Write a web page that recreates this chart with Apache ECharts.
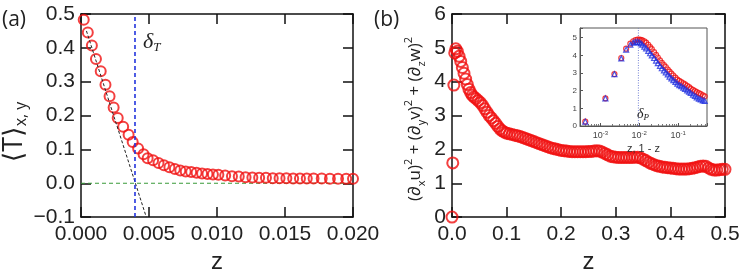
<!DOCTYPE html>
<html><head><meta charset="utf-8">
<script src="https://cdn.jsdelivr.net/npm/echarts@6/dist/echarts.min.js"></script>
<style>html,body{margin:0;padding:0;background:#fff}#c{width:747px;height:279px}</style>
</head><body><div id="c"></div>
<script>
// ---------- Panel (a) ----------
const aZ = [0.0002,0.0005,0.0008,0.0011,0.00145,0.0018,0.0021,0.0024,0.0027,0.0031,0.0035,0.0038,0.0042,0.0046,0.0049,
  0.0053,0.0057,0.0061,0.0065,0.0069,0.0073,0.0077,0.0081,0.0085,0.0089,0.0093,0.0097,0.0101,0.0106,0.0111,0.0116,
  0.0121,0.0126,0.0131,0.0136,0.0141,0.0146,0.0151,0.0156,0.0161,0.0166,0.0171,0.0177,0.0183,0.0189,0.0195,0.0200];
const aT = [0.483,0.445,0.407,0.367,0.331,0.291,0.257,0.224,0.193,0.167,0.143,0.122,0.103,0.086,0.074,
  0.068,0.060,0.053,0.047,0.042,0.038,0.035,0.033,0.031,0.029,0.027,0.026,0.025,0.023,0.021,0.020,
  0.018,0.017,0.016,0.016,0.015,0.015,0.015,0.014,0.014,0.014,0.014,0.014,0.013,0.013,0.013,0.013];
const aXTicks = [0, 0.02, 0.005];     // min, max, interval
const aYTicks = [-0.1, 0.5, 0.1];
const deltaT = 0.00397;
const tangentZ = [0.0004, 0.0048];
const tangentT = [0.45, -0.1];

// ---------- Panel (b) ----------
const bZ = [0,0.0014,0.0034,0.005,0.007,0.0098,0.013,0.016,0.019,0.022,0.025,0.028,0.031,0.034,0.037,0.040,0.044,0.048,
  0.052,0.056,0.060,0.064,0.068,0.072,0.076,0.080,0.084,0.088,0.092,0.096,0.100,0.105,0.110,0.115,0.120,0.125,0.130,
  0.135,0.140,0.145,0.150,0.155,0.160,0.165,0.170,0.175,0.180,0.185,0.190,0.195,0.200,0.205,0.210,0.215,0.220,0.225,
  0.230,0.235,0.240,0.245,0.250,0.255,0.260,0.265,0.270,0.275,0.280,0.285,0.290,0.295,0.300,0.305,0.310,0.315,0.320,
  0.325,0.330,0.335,0.340,0.345,0.350,0.355,0.360,0.365,0.370,0.375,0.380,0.385,0.390,0.395,0.400,0.405,0.410,0.415,
  0.420,0.425,0.430,0.435,0.440,0.445,0.450,0.455,0.460,0.465,0.470,0.475,0.480,0.485,0.490,0.495,0.500];
const bVal = [0,1.6,3.9,4.85,4.97,4.9,4.75,4.6,4.42,4.25,4.08,3.92,3.78,3.68,3.6,3.55,3.5,3.44,
  3.38,3.3,3.2,3.1,3.0,2.93,2.85,2.77,2.68,2.6,2.55,2.51,2.48,2.46,2.44,2.42,2.4,2.38,2.35,
  2.32,2.29,2.26,2.23,2.2,2.17,2.14,2.11,2.08,2.05,2.03,2.01,1.99,1.97,1.96,1.95,1.94,1.93,1.93,
  1.93,1.93,1.93,1.93,1.94,1.94,1.95,1.96,1.95,1.92,1.88,1.84,1.8,1.78,1.77,1.76,1.76,1.76,1.76,
  1.76,1.76,1.77,1.77,1.75,1.71,1.67,1.62,1.58,1.55,1.52,1.5,1.48,1.47,1.46,1.45,1.44,1.43,1.42,
  1.42,1.42,1.42,1.43,1.44,1.46,1.48,1.5,1.51,1.5,1.45,1.41,1.39,1.39,1.4,1.41,1.41];
const bXTicks = [0, 0.5, 0.1];
const bYTicks = [0, 6, 1];

// ---------- Inset ----------
const insetZ = [4.1e-4,1.35e-3,2.3e-3,3.45e-3,4.6e-3,5.9e-3,7.0e-3,8.0e-3,9.0e-3,1.0e-2,1.1e-2,1.2e-2,1.35e-2,1.5e-2,
  1.7e-2,1.9e-2,2.1e-2,2.4e-2,2.7e-2,3.0e-2,3.4e-2,3.8e-2,4.3e-2,4.8e-2,5.4e-2,6.0e-2,6.7e-2,7.5e-2,8.5e-2,9.5e-2,
  0.107,0.12,0.135,0.15,0.17,0.19,0.21,0.24,0.27,0.30,0.34,0.38,0.43,0.48];
const insetRed = [0.25,1.57,2.94,3.85,4.38,4.66,4.8,4.87,4.9,4.9,4.88,4.85,4.8,4.72,
  4.6,4.47,4.35,4.18,4.03,3.88,3.72,3.58,3.45,3.34,3.2,3.08,2.97,2.86,2.74,2.63,
  2.55,2.48,2.42,2.36,2.28,2.2,2.12,2.05,1.98,1.92,1.86,1.8,1.74,1.68];
const insetBlue = [0.25,1.57,2.94,3.83,4.33,4.6,4.72,4.76,4.77,4.74,4.68,4.6,4.5,4.4,
  4.26,4.12,4.0,3.85,3.7,3.56,3.4,3.27,3.15,3.04,2.92,2.8,2.7,2.6,2.5,2.4,
  2.32,2.25,2.17,2.1,2.02,1.94,1.87,1.78,1.7,1.62,1.55,1.5,1.45,1.42];
const insetX = [3e-4, 0.55];
const insetY = [0, 5.55, 1];
const deltaP = 0.0095;

const RED = '#f01010', BLUE = '#1f2fe0';
const TICKFONT = "'Liberation Sans', Arial, sans-serif";
const TITLEFONT = "'Open Sans', 'DejaVu Sans', sans-serif";

function zip(xs, ys) { return xs.map((x, i) => [x, ys[i]]); }

function mainX(grid, t, dec, show, pos) {
  return {
    gridIndex: grid, type: 'value', min: t[0], max: t[1], interval: t[2], position: pos,
    axisLine: { show: true, onZero: false, lineStyle: { color: '#111', width: 1.5 } },
    axisTick: { show: true, inside: true, length: 10, lineStyle: { color: '#111', width: 1.5 } },
    axisLabel: { show: show, margin: 7, fontSize: 21, fontFamily: TICKFONT, color: '#222',
      formatter: v => v.toFixed(dec) },
    splitLine: { show: false }
  };
}
function mainY(grid, t, dec, show, pos) {
  return {
    gridIndex: grid, type: 'value', min: t[0], max: t[1], interval: t[2], position: pos,
    axisLine: { show: true, onZero: false, lineStyle: { color: '#111', width: 1.5 } },
    axisTick: { show: true, inside: true, length: 10, lineStyle: { color: '#111', width: 1.5 } },
    axisLabel: { show: show, margin: 6, fontSize: 21, fontFamily: TICKFONT, color: '#222',
      formatter: v => (Math.abs(v) < 1e-9 ? 0 : v).toFixed(dec).replace('-', '\u2212') },
    splitLine: { show: false }
  };
}

const circleStyle = (w) => ({ color: 'rgba(0,0,0,0)', borderColor: RED, borderWidth: w });

const option = {
  animation: false,
  backgroundColor: '#fff',
  grid: [
    { left: 81, top: 14, width: 272, height: 209 },
    { left: 452, top: 14, width: 273, height: 209 },
    { left: 580, top: 28, width: 127, height: 98, show: true, backgroundColor: '#fff', borderColor: '#555', borderWidth: 1, z: 5 }
  ],
  xAxis: [
    Object.assign(mainX(0, aXTicks, 3, true, 'bottom'), { name: 'z', nameLocation: 'middle', nameGap: 28,
      nameTextStyle: { fontSize: 24, fontFamily: TICKFONT, color: '#222' } }),
    mainX(0, aXTicks, 3, false, 'top'),
    Object.assign(mainX(1, bXTicks, 1, true, 'bottom'), { name: 'z', nameLocation: 'middle', nameGap: 28,
      nameTextStyle: { fontSize: 24, fontFamily: TICKFONT, color: '#222' } }),
    mainX(1, bXTicks, 1, false, 'top'),
    {
      gridIndex: 2, type: 'log', logBase: 10, min: insetX[0], max: insetX[1], z: 6,
      axisLine: { show: true, onZero: false, lineStyle: { color: '#555', width: 1 } },
      axisTick: { show: true, inside: true, length: 3, lineStyle: { color: '#555' } },
      minorTick: { show: true, splitNumber: 9, length: 2, lineStyle: { color: '#777' } },
      axisLabel: { margin: 4, color: '#444', fontFamily: TICKFONT,
        formatter: v => { const e = Math.log10(v); if (Math.abs(e - Math.round(e)) > 1e-6) return '';
          return '{b|10}{s|' + Math.round(e) + '}'; },
        rich: { b: { fontSize: 9, fontFamily: TICKFONT, color: '#444' },
                s: { fontSize: 6, fontFamily: TICKFONT, color: '#444', verticalAlign: 'top', padding: [0, 0, 6, 0] } } },
      name: 'z, 1 - z', nameLocation: 'middle', nameGap: 17,
      nameTextStyle: { fontSize: 11, fontFamily: TICKFONT, color: '#333' },
      splitLine: { show: false }
    }
  ],
  yAxis: [
    mainY(0, aYTicks, 1, true, 'left'),
    mainY(0, aYTicks, 1, false, 'right'),
    mainY(1, bYTicks, 0, true, 'left'),
    mainY(1, bYTicks, 0, false, 'right'),
    {
      gridIndex: 2, type: 'value', min: insetY[0], max: insetY[1], interval: insetY[2], z: 6,
      axisLine: { show: true, onZero: false, lineStyle: { color: '#555', width: 1 } },
      axisTick: { show: true, inside: true, length: 3, lineStyle: { color: '#555' } },
      axisLabel: { margin: 3, fontSize: 8, fontFamily: TICKFONT, color: '#444',
        formatter: v => (Math.abs(v - Math.round(v)) > 1e-6 ? '' : String(Math.round(v))) },
      splitLine: { show: false }
    }
  ],
  series: [
    { type: 'scatter', xAxisIndex: 0, yAxisIndex: 0, data: zip(aZ, aT), symbol: 'circle', symbolSize: 10,
      itemStyle: circleStyle(2), z: 2 },
    { type: 'line', xAxisIndex: 0, yAxisIndex: 0, data: [[aXTicks[0], 0], [aXTicks[1], 0]], symbol: 'none',
      lineStyle: { color: '#3a9a3a', width: 1.2, type: [4, 3] }, z: 1 },
    { type: 'line', xAxisIndex: 0, yAxisIndex: 0, data: zip(tangentZ, tangentT), symbol: 'none',
      lineStyle: { color: '#222', width: 1, type: [3, 2] }, z: 3 },
    { type: 'line', xAxisIndex: 0, yAxisIndex: 0, data: [[deltaT, aYTicks[0]], [deltaT, aYTicks[1]]], symbol: 'none',
      lineStyle: { color: '#2233dd', width: 1.6, type: [4, 3] }, z: 3 },

    { type: 'scatter', xAxisIndex: 2, yAxisIndex: 2, data: zip(bZ, bVal), symbol: 'circle', symbolSize: 11,
      itemStyle: circleStyle(2), z: 2 },

    { type: 'line', xAxisIndex: 4, yAxisIndex: 4, data: [[deltaP, insetY[0]], [deltaP, insetY[1]]], symbol: 'none',
      lineStyle: { color: '#5566cc', width: 0.8, type: [1, 1.5] }, z: 6 },
    { type: 'scatter', xAxisIndex: 4, yAxisIndex: 4, data: zip(insetZ, insetRed), symbol: 'circle', symbolSize: 5,
      itemStyle: { color: 'rgba(0,0,0,0)', borderColor: RED, borderWidth: 1.2 }, z: 7 },
    { type: 'scatter', xAxisIndex: 4, yAxisIndex: 4, data: zip(insetZ, insetBlue), symbol: 'triangle', symbolSize: 5,
      itemStyle: { color: 'rgba(0,0,0,0)', borderColor: BLUE, borderWidth: 1.2 }, z: 8 }
  ],
  graphic: [
    { type: 'text', x: 2, y: 20, style: { text: '(a)', fontSize: 21, fontFamily: TITLEFONT, fill: '#222', verticalAlign: 'middle' } },
    { type: 'text', x: 374, y: 20, style: { text: '(b)', fontSize: 21, fontFamily: TITLEFONT, fill: '#222', verticalAlign: 'middle' } },
    { type: 'text', x: 14, y: 132, rotation: Math.PI / 2,
      style: { text: '{m|\u27E8T\u27E9}{s|x, y}', align: 'center', verticalAlign: 'middle',
        rich: { m: { fontSize: 27, fontFamily: TITLEFONT, fill: '#222', lineHeight: 30, verticalAlign: 'middle' },
                s: { fontSize: 16, fontFamily: TITLEFONT, fill: '#222', lineHeight: 16, verticalAlign: 'bottom' } } } },
    { type: 'text', x: 415, y: 119, rotation: Math.PI / 2,
      style: { text: '{t|(\u2202}{b|x}{t|u)}{p|2}{t| + (\u2202}{b|y}{t|v)}{p|2}{t| + (\u2202}{b|z}{t|w)}{p|2}',
        align: 'center', verticalAlign: 'middle',
        rich: { t: { fontSize: 17, fontFamily: TITLEFONT, fill: '#222', lineHeight: 24, verticalAlign: 'middle' },
                b: { fontSize: 11, fontFamily: TITLEFONT, fill: '#222', lineHeight: 11, verticalAlign: 'bottom' },
                p: { fontSize: 11, fontFamily: TITLEFONT, fill: '#222', lineHeight: 11, verticalAlign: 'top' } } } },
    { type: 'text', x: 143, y: 42,
      style: { text: '{d|\u03B4}{s|T}', verticalAlign: 'middle',
        rich: { d: { fontSize: 22, fontFamily: "'Liberation Serif', serif", fontStyle: 'italic', fill: '#222', lineHeight: 24, verticalAlign: 'middle' },
                s: { fontSize: 13, fontFamily: "'Liberation Serif', serif", fontStyle: 'italic', fill: '#222', lineHeight: 13, verticalAlign: 'bottom' } } } },
    { type: 'text', x: 637, y: 114, z: 20,
      style: { text: '{d|\u03B4}{s|P}', verticalAlign: 'middle',
        rich: { d: { fontSize: 14, fontFamily: "'Liberation Serif', serif", fontStyle: 'italic', fill: '#222', lineHeight: 16, verticalAlign: 'middle' },
                s: { fontSize: 9, fontFamily: "'Liberation Serif', serif", fontStyle: 'italic', fill: '#222', lineHeight: 9, verticalAlign: 'bottom' } } } }
  ]
};
const chart = echarts.init(document.getElementById('c'), null, { renderer: 'canvas' });
chart.setOption(option);
</script></body></html>
